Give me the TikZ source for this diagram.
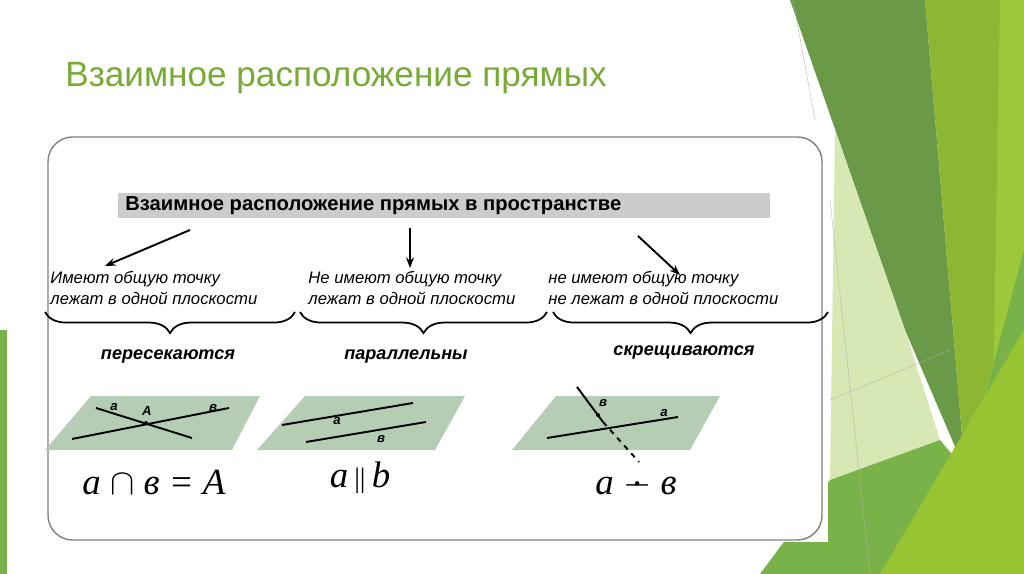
\documentclass[tikz,border=0pt]{standalone}
\usepackage{fontspec}
\setmainfont{Liberation Sans}
\newfontfamily\serifit{Liberation Serif}
\usetikzlibrary{decorations.pathreplacing,arrows.meta}
\begin{document}
\begin{tikzpicture}[x=0.02cm,y=-0.02cm,
  small/.style={anchor=west,font=\fontsize{9.5}{11.5}\selectfont\itshape,align=left,inner sep=0},
  kind/.style={font=\fontsize{10.3}{12}\selectfont\bfseries\itshape,inner sep=0},
  plane/.style={fill={rgb,255:red,180;green,205;blue,180},draw=none},
  ln/.style={line width=1.1pt},
  lab/.style={font=\fontsize{7.5}{9}\selectfont\bfseries\itshape,inner sep=0},
  frm/.style={font=\fontsize{21}{24}\selectfont\serifit\itshape,inner sep=0},
  arr/.style={-{Stealth[length=6pt]},line width=1.1pt},
  brc/.style={decorate,decoration={brace,mirror,amplitude=12pt},line width=1pt}]
\useasboundingbox (0,0) rectangle (1024,574);
% background shapes
\fill[white] (0,0) rectangle (1024,574);
\fill[color={rgb,255:red,106;green,154;blue,72}] (790,0)--(925,0)--(965,470)--(905,330)--cycle;
\fill[color={rgb,255:red,139;green,183;blue,51}] (925,0)--(1024,0)--(1024,250)--(965,470)--cycle;
\fill[color={rgb,255:red,156;green,200;blue,60}] (1000,0)--(1024,0)--(1024,574)--(990,574)--cycle;
\fill[color={rgb,255:red,215;green,232;blue,180}] (835,130)--(905,330)--(940,440)--(830,480)--cycle;
\fill[color={rgb,255:red,120;green,178;blue,72}] (760,574)--(830,480)--(940,440)--(965,470)--(1024,250)--(1024,574)--cycle;
\fill[color={rgb,255:red,150;green,196;blue,50}] (880,574)--(1024,330)--(1024,574)--cycle;
\fill[color={rgb,255:red,120;green,178;blue,72}] (0,330)--(7,330)--(7,574)--(0,574)--cycle;
\draw[gray!60,very thin] (793,0)--(815,120) (830,200)--(870,574) (830,400)--(950,350);
\fill[white] (35,125) rectangle (828,542);
% title
\node[anchor=west,font=\fontsize{20}{24}\selectfont,text={rgb,255:red,120;green,170;blue,55},inner sep=0] (title) at (65,78) {Взаимное расположение прямых};
% main frame
\draw[gray,line width=0.8pt,rounded corners=14pt] (48,137) rectangle (822,540);
\fill[gray!40] (118,193) rectangle (770,218);
\node[anchor=west,font=\fontsize{11.5}{13}\selectfont\bfseries,inner sep=0] (head) at (125,206) {Взаимное расположение прямых в пространстве};
% texts
\node[small] (t1) at (50,288) {Имеют общую точку\\лежат в одной плоскости};
\node[small] (t2) at (308,288) {Не имеют общую точку\\лежат в одной плоскости};
\node[small] (t3) at (548,288) {не имеют общую точку\\не лежат в одной плоскости};
\coordinate (a1s) at (190,230); \coordinate (a1e) at (105,266);
\coordinate (a2s) at (410,228); \coordinate (a2e) at (410,268);
\coordinate (a3s) at (638,236); \coordinate (a3e) at (680,275);
\draw[arr] (a1s)--(a1e); \draw[arr] (a2s)--(a2e); \draw[arr] (a3s)--(a3e);
% braces
\draw[brc] (45,312)--(295,312);
\draw[brc] (300,312)--(547,312);
\draw[brc] (553,312)--(828,312);
\node[kind] (k1) at (168,356) {пересекаются};
\node[kind] (k2) at (406,357) {параллельны};
\node[kind] (k3) at (684,352) {скрещиваются};
% planes
\fill[plane] (91,396)--(260,396)--(232,450)--(45,450)--cycle;
\fill[plane] (305,396)--(465,396)--(435,450)--(257,450)--cycle;
\fill[plane] (556,396)--(720,396)--(690,450)--(512,450)--cycle;
% plane 1
\draw[ln] (96,408)--(192,438);
\draw[ln] (72,439)--(229,408);
\fill (146,423) circle (2);
\node[lab] (l1a) at (114,407) {а};
\node[lab] (l1A) at (147,411) {A};
\node[lab] (l1b) at (213,408) {в};
% plane 2
\draw[ln] (282,425)--(413,403);
\draw[ln] (306,442)--(426,422);
\node[lab] (l2a) at (337,421) {а};
\node[lab] (l2b) at (381,439) {в};
% plane 3
\draw[ln] (547,438)--(678,417);
\draw[ln] (577,387)--(603,422);
\draw[ln,dashed] (603,422)--(639,462);
\fill (598,415) circle (2);
\node[lab] (l3a) at (664,413) {а};
\node[lab] (l3b) at (603,403) {в};
% formulas
\node[frm] (f1) at (154,483) {a $\cap$ в = A};
\node[frm] (f2) at (360,478) {a\,{\upshape\fontsize{16}{18}\selectfont||}\,b};
\node[frm] (f3) at (636,484) {a {\upshape\ooalign{$-$\cr\hidewidth\raisebox{0.55ex}{.}\hidewidth\cr}} в};
\end{tikzpicture}
\end{document}
